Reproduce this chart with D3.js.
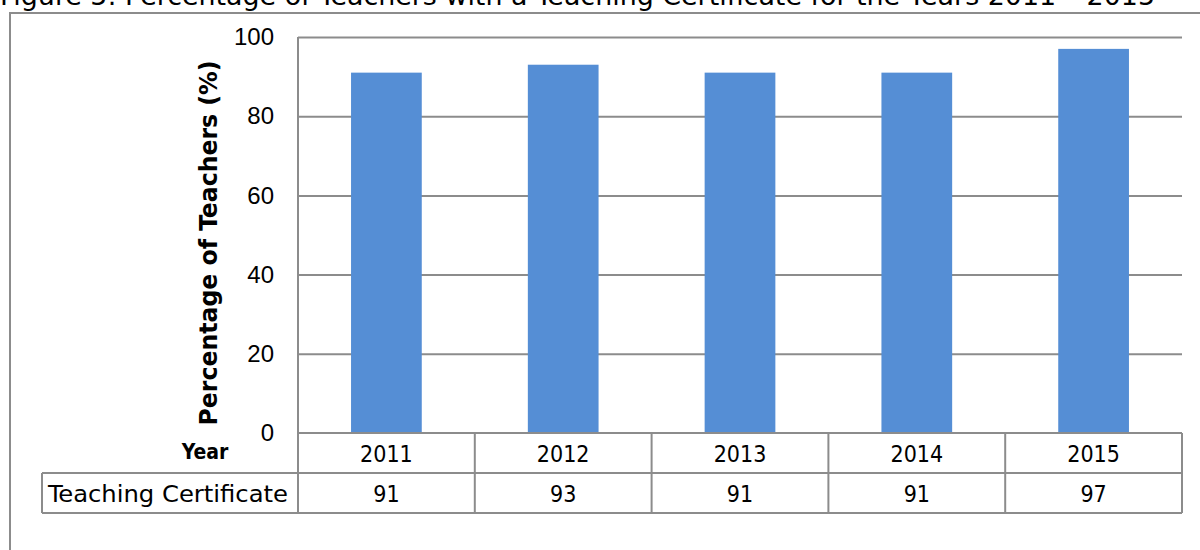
<!DOCTYPE html>
<meta charset="utf-8">
<style>
  body { margin: 0; background: #fff; }
  .title { font-family: "DejaVu Sans Condensed", "DejaVu Sans", sans-serif; font-stretch: condensed; font-size: 27px; fill: #000; }
  .tick text { font-family: "Liberation Sans", Arial, sans-serif; font-size: 24px; fill: #000; }
  .cell { font-family: "DejaVu Sans Condensed", "DejaVu Sans", sans-serif; font-stretch: condensed; font-size: 23px; fill: #000; }
  .ylab { font-family: "DejaVu Sans Condensed", "DejaVu Sans", sans-serif; font-stretch: condensed; font-size: 24px; font-weight: bold; fill: #000; }
  .grid line { stroke: #8c8c8c; stroke-width: 2; }
  .tbl { stroke: #8c8c8c; stroke-width: 2; fill: none; }
</style>
<body>
<script src="https://cdnjs.cloudflare.com/ajax/libs/d3/7.8.5/d3.min.js"></script>
<script>

// data
var years = ['2011', '2012', '2013', '2014', '2015'];
var certified = [91, 93, 91, 91, 97];
var yTicks = [0, 20, 40, 60, 80, 100];
var seriesName = 'Teaching Certificate';

var width = 1200, height = 550;
var plotLeft = 298, plotRight = 1182, plotTop = 37, plotBottom = 433;
var rowH = 40;

var svg = d3.select('body').append('svg').attr('width', width).attr('height', height);

var x = d3.scaleBand().domain(years).range([plotLeft, plotRight]).padding(0);
var y = d3.scaleLinear().domain([0, 100]).range([plotBottom, plotTop]);

// title (top is cut off in the original)
svg.append('text').attr('class', 'title').attr('x', 0).attr('y', 5)
  .attr('textLength', 1155).attr('lengthAdjust', 'spacingAndGlyphs')
  .text('Figure 5: Percentage of Teachers with a Teaching Certificate for the Years 2011 \u2013 2015');

// outer frame
svg.append('path').attr('class', 'tbl')
  .attr('d', 'M10,550 V13 H1200');

// gridlines
svg.append('g').attr('class', 'grid')
  .attr('transform', 'translate(' + plotLeft + ',0)')
  .call(d3.axisLeft(y).tickValues(yTicks.slice(1)).tickSize(-(plotRight - plotLeft)).tickFormat(''))
  .call(function (g) { g.select('.domain').remove(); });

// tick labels
svg.append('g')
  .attr('transform', 'translate(' + (plotLeft - 24) + ',0)')
  .call(d3.axisLeft(y).tickValues(yTicks).tickSize(0).tickPadding(0))
  .call(function (g) { g.select('.domain').remove(); });

// bars
var barW = x.bandwidth() * 0.4;
svg.append('g').selectAll('rect').data(certified).enter().append('rect')
  .attr('x', function (d, i) { return x(years[i]) + x.bandwidth() / 2 - barW / 2; })
  .attr('y', function (d) { return y(d); })
  .attr('width', barW)
  .attr('height', function (d) { return y(0) - y(d); })
  .style('fill', '#558ed5');

// y axis title
svg.append('text').attr('class', 'ylab')
  .attr('transform', 'translate(217,' + ((plotTop + plotBottom) / 2 + 8) + ') rotate(-90)')
  .attr('text-anchor', 'middle')
  .attr('textLength', 365).attr('lengthAdjust', 'spacingAndGlyphs')
  .text('Percentage of Teachers (%)');

// data table
var tbl = svg.append('g');
tbl.append('line').attr('class', 'tbl').attr('x1', plotLeft).attr('x2', plotRight).attr('y1', plotBottom).attr('y2', plotBottom);
tbl.append('line').attr('class', 'tbl').attr('x1', 42).attr('x2', plotRight).attr('y1', plotBottom + rowH).attr('y2', plotBottom + rowH);
tbl.append('line').attr('class', 'tbl').attr('x1', 42).attr('x2', plotRight).attr('y1', plotBottom + 2 * rowH).attr('y2', plotBottom + 2 * rowH);
tbl.append('line').attr('class', 'tbl').attr('x1', plotLeft).attr('x2', plotLeft).attr('y1', plotTop).attr('y2', plotBottom + 2 * rowH);
tbl.append('line').attr('class', 'tbl').attr('x1', 42).attr('x2', 42).attr('y1', plotBottom + rowH).attr('y2', plotBottom + 2 * rowH);
tbl.selectAll('line.col').data(years).enter().append('line').attr('class', 'tbl col')
  .attr('x1', function (d) { return x(d) + x.bandwidth(); })
  .attr('x2', function (d) { return x(d) + x.bandwidth(); })
  .attr('y1', plotBottom).attr('y2', plotBottom + 2 * rowH);

tbl.append('text').attr('class', 'cell').attr('x', 205).attr('y', 459)
  .attr('text-anchor', 'middle').style('font-weight', 'bold').style('font-size', '21px').text('Year');
tbl.selectAll('text.yr').data(years).enter().append('text').attr('class', 'cell yr')
  .attr('x', function (d) { return x(d) + x.bandwidth() / 2; }).attr('y', 462)
  .attr('text-anchor', 'middle').text(function (d) { return d; });
tbl.append('text').attr('class', 'cell').attr('x', 48).attr('y', 502)
  .attr('textLength', 240).attr('lengthAdjust', 'spacingAndGlyphs').text(seriesName);
tbl.selectAll('text.val').data(certified).enter().append('text').attr('class', 'cell val')
  .attr('x', function (d, i) { return x(years[i]) + x.bandwidth() / 2; }).attr('y', 502)
  .attr('text-anchor', 'middle').text(function (d) { return d; });

</script>
</body>
</html>
